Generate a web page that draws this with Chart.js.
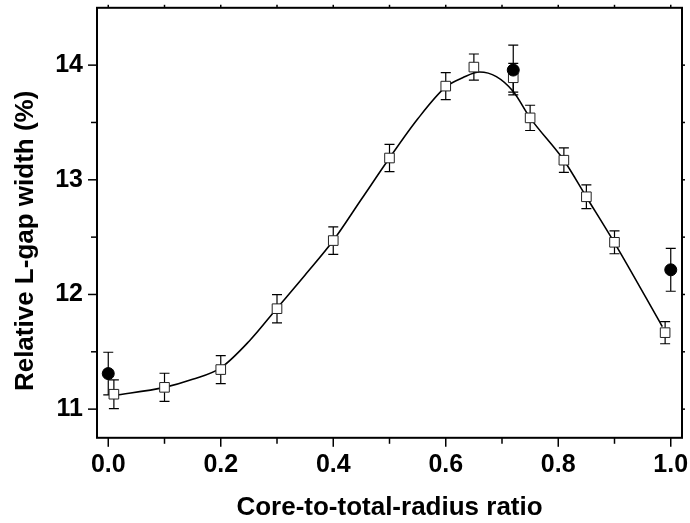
<!DOCTYPE html>
<html>
<head>
<meta charset="utf-8">
<title>Relative L-gap width</title>
<script src="https://cdn.jsdelivr.net/npm/chart.js@4"></script>
<style>
  html, body { margin: 0; padding: 0; background: #fff; }
  canvas { display: block; }
</style>
</head>
<body>
<canvas id="chart" width="690" height="523"></canvas>
<script>
// open squares (with error bars)
const squareX = [0.01, 0.1, 0.2, 0.3, 0.4, 0.5, 0.6, 0.65, 0.72, 0.75, 0.81, 0.85, 0.9, 0.99];
const squareY = [11.13, 11.19, 11.345, 11.876, 12.47, 13.19, 13.817, 13.983, 13.89, 13.54, 13.171, 12.852, 12.455, 11.667];
const squareErr = [0.125, 0.123, 0.122, 0.123, 0.12, 0.119, 0.117, 0.114, 0.125, 0.11, 0.107, 0.104, 0.1, 0.097];

// filled circles (with error bars)
const circleX = [0, 0.72, 1.0];
const circleY = [11.31, 13.957, 12.215];
const circleErr = [0.186, 0.217, 0.187];

// fitted curve
const curveX = [0.01, 0.1, 0.15, 0.2, 0.25, 0.3, 0.35, 0.4, 0.45, 0.5, 0.55, 0.6, 0.63, 0.66, 0.69, 0.72, 0.75, 0.81, 0.85, 0.9, 0.985];
const curveY = [11.12, 11.19, 11.26, 11.36, 11.59, 11.88, 12.17, 12.47, 12.83, 13.19, 13.53, 13.81, 13.89, 13.94, 13.90, 13.77, 13.54, 13.17, 12.85, 12.45, 11.72];

// axes
const xMajor = [0, 0.2, 0.4, 0.6, 0.8, 1.0];
const xMinor = [0.1, 0.3, 0.5, 0.7, 0.9];
const yMajor = [11, 12, 13, 14];
const yMinor = [11.5, 12.5, 13.5];

const toPoints = (xs, ys) => xs.map((v, i) => ({ x: v, y: ys[i] }));

const FONT = "'Liberation Sans', Arial, Helvetica, sans-serif";

// error bars go under the markers
const errorBars = {
  id: 'errorBars',
  beforeDatasetsDraw(chart) {
    const { ctx, scales: { x, y } } = chart;
    const draw = (xs, ys, errs) => {
      xs.forEach((v, i) => {
        const px = x.getPixelForValue(v);
        const top = y.getPixelForValue(ys[i] + errs[i]);
        const bot = y.getPixelForValue(ys[i] - errs[i]);
        ctx.beginPath();
        ctx.moveTo(px, top); ctx.lineTo(px, bot);
        ctx.moveTo(px - 5, top); ctx.lineTo(px + 5, top);
        ctx.moveTo(px - 5, bot); ctx.lineTo(px + 5, bot);
        ctx.stroke();
      });
    };
    ctx.save();
    ctx.strokeStyle = '#000';
    ctx.lineWidth = 1.2;
    draw(squareX, squareY, squareErr);
    draw(circleX, circleY, circleErr);
    ctx.restore();
  }
};

// frame box with major / minor tick marks
const frame = {
  id: 'frame',
  afterDatasetsDraw(chart) {
    const { ctx, chartArea: a, scales: { x, y } } = chart;
    const line = (x1, y1, x2, y2) => {
      ctx.beginPath(); ctx.moveTo(x1, y1); ctx.lineTo(x2, y2); ctx.stroke();
    };
    ctx.save();
    ctx.strokeStyle = '#000';
    ctx.lineWidth = 1.5;
    xMajor.forEach(v => {
      const p = x.getPixelForValue(v);
      line(p, a.bottom, p, a.bottom + 9);
      line(p, a.top, p, a.top - 3);
    });
    xMinor.forEach(v => {
      const p = x.getPixelForValue(v);
      line(p, a.bottom, p, a.bottom + 6);
      line(p, a.top, p, a.top - 3);
    });
    yMajor.forEach(v => {
      const p = y.getPixelForValue(v);
      line(a.left, p, a.left - 9, p);
      line(a.right, p, a.right + 3, p);
    });
    yMinor.forEach(v => {
      const p = y.getPixelForValue(v);
      line(a.left, p, a.left - 6, p);
      line(a.right, p, a.right + 3, p);
    });
    ctx.lineWidth = 2;
    ctx.strokeRect(a.left, a.top, a.right - a.left, a.bottom - a.top);
    ctx.restore();
  }
};

const noPad = (scale) => {
  scale.paddingTop = 0; scale.paddingBottom = 0;
  scale.paddingLeft = 0; scale.paddingRight = 0;
};

new Chart(document.getElementById('chart'), {
  type: 'scatter',
  data: {
    datasets: [
      {
        label: 'circles',
        data: toPoints(circleX, circleY),
        pointStyle: 'circle',
        pointRadius: 6,
        pointBackgroundColor: '#000',
        pointBorderColor: '#000',
        pointBorderWidth: 1,
        order: 0
      },
      {
        label: 'squares',
        data: toPoints(squareX, squareY),
        pointStyle: 'rect',
        pointRadius: 6.8,
        pointBackgroundColor: '#fff',
        pointBorderColor: '#222',
        pointBorderWidth: 1,
        order: 1
      },
      {
        label: 'fit',
        data: toPoints(curveX, curveY),
        showLine: true,
        borderColor: '#000',
        borderWidth: 1.6,
        pointRadius: 0,
        cubicInterpolationMode: 'monotone',
        order: 2
      }
    ]
  },
  options: {
    responsive: false,
    animation: false,
    events: [],
    layout: { padding: { left: 10, right: 8, top: 7, bottom: 0 } },
    plugins: { legend: { display: false }, tooltip: { enabled: false } },
    scales: {
      x: {
        type: 'linear',
        min: -0.02,
        max: 1.02,
        afterBuildTicks: (s) => { s.ticks = xMajor.map(v => ({ value: v })); },
        afterFit: noPad,
        grid: { display: false, drawTicks: false },
        border: { display: false },
        ticks: {
          padding: 12,
          color: '#000',
          font: { family: FONT, size: 25, weight: 'bold' },
          callback: (v) => Number(v).toFixed(1)
        },
        title: {
          display: true,
          text: 'Core-to-total-radius ratio',
          color: '#000',
          padding: 0,
          font: { family: FONT, size: 26, weight: 'bold' }
        }
      },
      y: {
        type: 'linear',
        min: 10.75,
        max: 14.5,
        afterBuildTicks: (s) => { s.ticks = yMajor.map(v => ({ value: v })); },
        afterFit: noPad,
        grid: { display: false, drawTicks: false },
        border: { display: false },
        ticks: {
          padding: 14,
          color: '#000',
          font: { family: FONT, size: 25, weight: 'bold' },
          callback: (v) => String(v)
        },
        title: {
          display: true,
          // trailing spaces nudge the label below the axis centre, as in the original
          text: 'Relative L-gap width (%)     ',
          color: '#000',
          padding: 0,
          font: { family: FONT, size: 26, weight: 'bold' }
        }
      }
    }
  },
  plugins: [errorBars, frame]
});
</script>
</body>
</html>
